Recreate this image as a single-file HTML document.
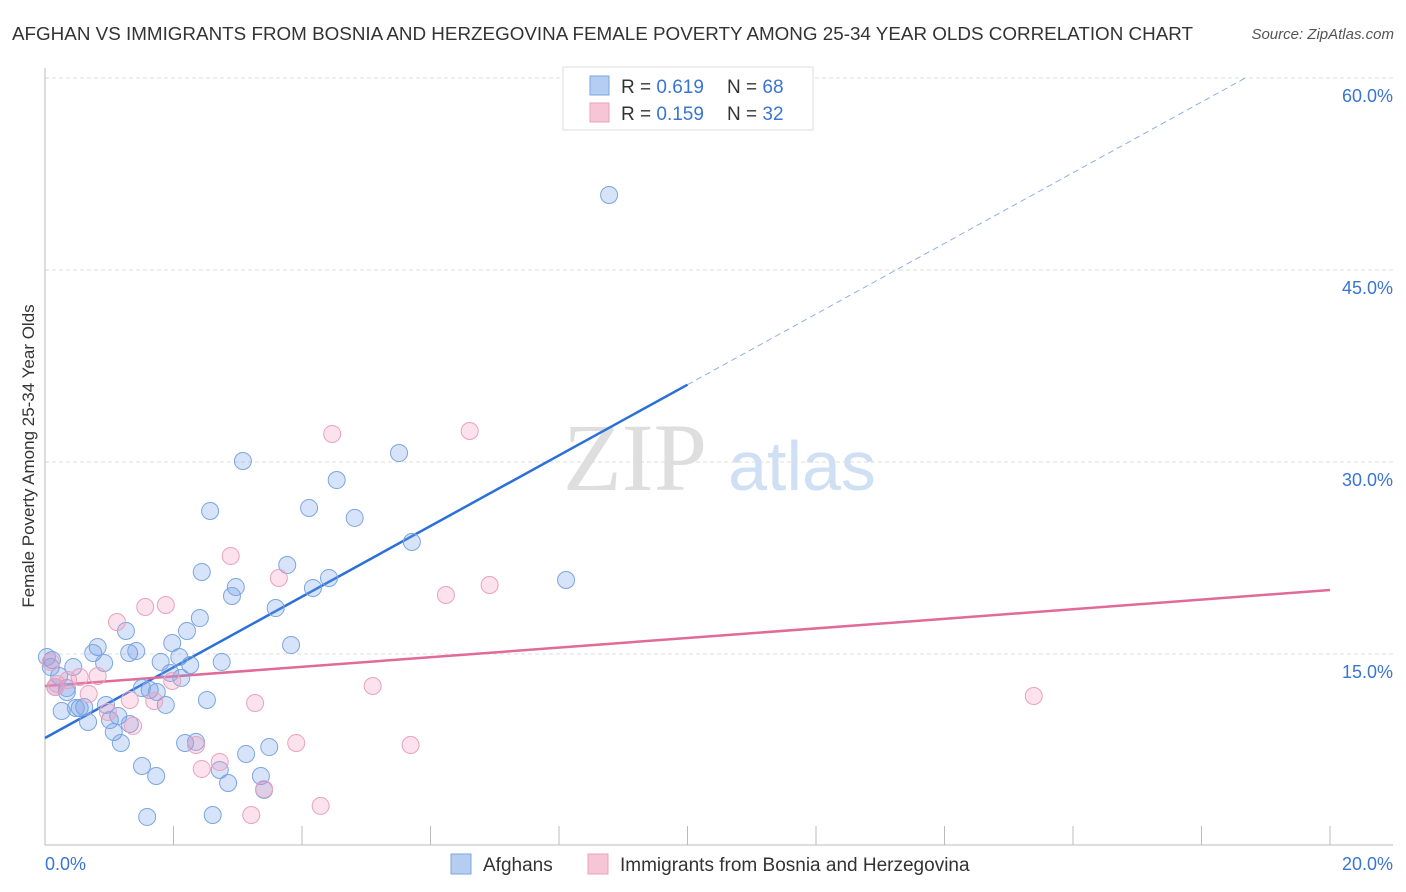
<!DOCTYPE html>
<html><head><meta charset="utf-8">
<style>
body{margin:0;background:#fff;font-family:"Liberation Sans",sans-serif;}
svg{display:block}
</style></head><body>
<svg id="chart" width="1406" height="892">
<text x="12" y="40" font-size="18" fill="#333" textLength="1181" lengthAdjust="spacingAndGlyphs">AFGHAN VS IMMIGRANTS FROM BOSNIA AND HERZEGOVINA FEMALE POVERTY AMONG 25-34 YEAR OLDS CORRELATION CHART</text>
<text x="1394" y="39" font-size="15" fill="#555" text-anchor="end" font-style="italic">Source: ZipAtlas.com</text>
<g>
<text x="635" y="490" font-size="96" fill="#dedede" text-anchor="middle" font-family="Liberation Serif,serif">ZIP</text>
<text x="802" y="490" font-size="70" fill="#cfe0f5" text-anchor="middle">atlas</text>
</g>
<g id="grid"></g>
<g id="axes"></g>
<g id="lines"></g>
<g id="points"></g>
<text transform="translate(34,456) rotate(-90)" font-size="17" fill="#333" text-anchor="middle">Female Poverty Among 25-34 Year Olds</text>
<g>
<rect x="563" y="67" width="250" height="63" fill="#fff" stroke="#ddd"/>
<rect x="590" y="76" width="19" height="19" fill="#b5cdf0" stroke="#7aa6e0"/>
<rect x="590" y="103" width="19" height="19" fill="#f7c6d6" stroke="#e8a0b8"/>
<g font-size="19" fill="#333">
<text x="621" y="93">R = <tspan fill="#3a74d4">0.619</tspan><tspan x="727">N = </tspan><tspan fill="#3a74d4">68</tspan></text>
<text x="621" y="120">R = <tspan fill="#3a74d4">0.159</tspan><tspan x="727">N = </tspan><tspan fill="#3a74d4">32</tspan></text>
</g>
</g>
<g>
<rect x="451" y="854" width="20" height="20" fill="#b5cdf0" stroke="#7aa6e0"/>
<text x="483" y="871" font-size="19" fill="#333">Afghans</text>
<rect x="588" y="854" width="20" height="20" fill="#f7c6d6" stroke="#e8a0b8"/>
<text x="620" y="871" font-size="19" fill="#333">Immigrants from Bosnia and Herzegovina</text>
</g>
</svg>
<script>
const blueX=[8.78,3.08,5.51,4.54,4.11,2.57,4.82,5.71,3.77,2.44,4.42,8.11,2.97,4.17,2.91,3.59,2.41,1.26,2.21,1.98,3.83,0.82,1.31,1.42,0.75,1.80,2.75,2.09,0.92,2.26,0.11,0.03,0.44,2.12,0.22,1.95,0.16,1.63,1.74,1.51,0.34,2.52,1.88,0.95,0.54,0.61,0.26,1.14,1.01,0.67,1.32,1.07,1.18,2.18,2.35,3.49,3.13,1.51,2.72,1.73,3.36,2.85,3.41,1.59,2.61,0.09,0.34,0.48];
const blueY=[50.86,30.08,30.70,28.59,26.41,26.17,25.63,23.75,21.95,21.41,20.94,20.78,20.23,20.16,19.53,18.59,17.81,16.80,16.80,15.86,15.70,15.55,15.08,15.23,15.08,14.38,14.38,14.77,14.30,14.14,14.53,14.77,13.98,13.13,13.28,13.52,12.42,12.19,12.03,12.34,12.03,11.41,11.02,11.02,10.78,10.86,10.55,10.16,9.84,9.69,9.53,8.91,8.05,8.05,8.13,7.73,7.19,6.25,5.94,5.47,5.47,4.92,4.38,2.27,2.42,13.98,12.34,10.78];
const pinkX=[4.47,6.61,2.89,3.64,6.92,6.24,1.56,1.88,1.12,0.09,0.54,0.82,0.36,1.98,0.19,0.68,1.32,1.70,5.10,3.27,0.98,1.37,2.35,3.91,5.69,2.72,2.44,3.41,4.29,3.21,15.39,0.16];
const pinkY=[32.19,32.42,22.66,20.94,20.39,19.61,18.67,18.83,17.50,14.38,13.20,13.28,12.97,12.89,12.66,11.88,11.41,11.33,12.50,11.17,10.47,9.38,7.89,8.05,7.89,6.56,6.02,4.45,3.13,2.42,11.72,12.42];
const yTicks=[15,30,45,60];
const yTickLabels=["15.0%","30.0%","45.0%","60.0%"];
const xTicks=[0,2,4,6,8,10,12,14,16,18,20];
const blueTrend=[8.44,2.76];
const pinkTrend=[12.5,0.375];
const blueSolidEnd=10;

const NS="http://www.w3.org/2000/svg";
const sx=v=>45+v/20*1285;
const sy=v=>846-v*12.8;
function mk(tag,attrs,parent){const e=document.createElementNS(NS,tag);for(const k in attrs)e.setAttribute(k,attrs[k]);document.getElementById(parent).appendChild(e);return e;}

yTicks.forEach((t,i)=>{
 const g=mk('line',{x1:45,x2:1393,y1:sy(t),y2:sy(t),stroke:'#ddd','stroke-dasharray':'4,3'},'grid');
 
 
 const l=mk('text',{x:1393,y:sy(t)+24,'font-size':18,fill:'#3a74d4','text-anchor':'end'},'grid');
 l.textContent=yTickLabels[i];
 
 
});
const ax=mk('line',{x1:45,x2:45,y1:68,y2:845,stroke:'#bbb'},'axes');


const bx=mk('line',{x1:45,x2:1393,y1:845,y2:845,stroke:'#bbb'},'axes');


xTicks.forEach(t=>{
 const k=mk('line',{x1:sx(t),x2:sx(t),y1:826,y2:845,stroke:'#bbb'},'axes');
 
 
});
const x0=mk('text',{x:45,y:870,'font-size':18,fill:'#3a74d4'},'axes');x0.textContent='0.0%';


const x1=mk('text',{x:1393,y:870,'font-size':18,fill:'#3a74d4','text-anchor':'end'},'axes');x1.textContent='20.0%';



const bEnd=(60-blueTrend[0])/blueTrend[1];
const bl=mk('line',{x1:sx(0),y1:sy(blueTrend[0]),x2:sx(blueSolidEnd),y2:sy(blueTrend[0]+blueTrend[1]*blueSolidEnd),stroke:'#2a70d8','stroke-width':2.5},'lines');


const bd=mk('line',{x1:sx(blueSolidEnd),y1:sy(blueTrend[0]+blueTrend[1]*blueSolidEnd),x2:sx(bEnd),y2:sy(60),stroke:'#8fb0e0','stroke-width':1,'stroke-dasharray':'6,4'},'lines');


const pl=mk('line',{x1:sx(0),y1:sy(pinkTrend[0]),x2:sx(20),y2:sy(pinkTrend[0]+pinkTrend[1]*20),stroke:'#e06a98','stroke-width':2.5},'lines');



blueX.forEach((v,i)=>{
 const c=mk('circle',{cx:sx(v),cy:sy(blueY[i]),r:8.5,fill:'rgba(110,155,230,0.28)',stroke:'#7aa6e0','stroke-width':1},'points');
 
 
});
pinkX.forEach((v,i)=>{
 const c=mk('circle',{cx:sx(v),cy:sy(pinkY[i]),r:8.5,fill:'rgba(240,150,185,0.28)',stroke:'#eaa2bc','stroke-width':1},'points');
 
 
});
</script>
</body></html>
